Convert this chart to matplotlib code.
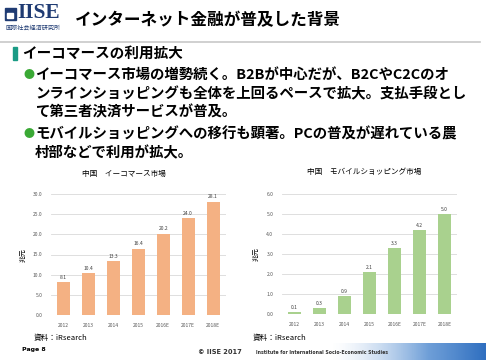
import numpy as np
import matplotlib.pyplot as plt
from matplotlib.patches import Rectangle
from matplotlib.colors import LinearSegmentedColormap

plt.rcParams['font.family'] = ['Noto Sans CJK JP', 'DejaVu Sans']

# data
years = ['2012', '2013', '2014', '2015', '2016E', '2017E', '2018E']
ec_market = [8.1, 10.4, 13.3, 16.4, 20.2, 24.0, 28.1]
mobile_market = [0.1, 0.3, 0.9, 2.1, 3.3, 4.2, 5.0]
ec_ticks = [0, 5, 10, 15, 20, 25, 30]
mobile_ticks = [0, 1, 2, 3, 4, 5, 6]

W, H = 486, 360
fig = plt.figure(figsize=(W / 100, H / 100), dpi=100)


def px(x, y):
    # pixel coords (top-left origin) -> figure fraction
    return x / W, 1 - y / H


def ftext(x, y, s, **kw):
    fx, fy = px(x, y)
    fig.text(fx, fy, s, **kw)


# header
fig.patches.append(Rectangle(px(5, 20), 11 / W, 12 / H, transform=fig.transFigure,
                             color='#1f3b73'))
fig.patches.append(Rectangle(px(7, 18), 6 / W, 5 / H, transform=fig.transFigure,
                             color='white'))
ftext(17, 23, 'IISE', family='Liberation Serif', weight='bold', size=15.5,
      color='#1f3b73', va='bottom')
ftext(5, 23.5, '国際社会経済研究所', size=4.4, color='#1f3b73', va='top')
ftext(75, 20, 'インターネット金融が普及した背景', size=12, weight='bold', va='center')
fig.add_artist(plt.Line2D([0, 480 / W], [1 - 42 / H] * 2, color='#c8c8c8', lw=1.2))

fig.patches.append(Rectangle(px(13, 60), 4 / W, 13 / H, transform=fig.transFigure,
                             color='#1a9b85'))
ftext(22, 53, 'イーコマースの利用拡大', size=10.5, weight='bold', va='center')

bullets = [
    (75, True, 'イーコマース市場の増勢続く。B2Bが中心だが、B2CやC2Cのオ'),
    (94, False, 'ンラインショッピングも全体を上回るペースで拡大。支払手段とし'),
    (112, False, 'て第三者決済サービスが普及。'),
    (134, True, 'モバイルショッピングへの移行も顕著。PCの普及が遅れている農'),
    (153, False, '村部などで利用が拡大。'),
]
for y, dot, s in bullets:
    if dot:
        ftext(23, y, '●', size=8, color='#3aa935', va='center')
    ftext(35, y, s, size=10.4, weight='bold', va='center')


def bar_chart(rect, values, ticks, color, title, title_x, title_y):
    ax = fig.add_axes(rect)
    x = np.arange(len(years))
    ax.bar(x, values, width=0.53, color=color, zorder=2)
    for xi, v in zip(x, values):
        ax.text(xi, v + ticks[-1] * 0.02, f'{v:.1f}', ha='center', va='bottom',
                size=3.6, color='#404040')
    ax.set_xlim(-0.5, len(years) - 0.5)
    ax.set_ylim(ticks[0], ticks[-1])
    ax.set_yticks(ticks)
    ax.set_yticklabels([f'{t:.1f}' for t in ticks])
    ax.set_xticks(x)
    ax.set_xticklabels(years)
    ax.tick_params(length=0, labelsize=3.6, labelcolor='#595959', pad=6)
    ax.grid(axis='y', color='#d9d9d9', lw=0.6, zorder=0)
    for sp in ax.spines.values():
        sp.set_visible(False)
    ax.set_ylabel('兆元', size=5, labelpad=4)
    ftext(title_x, title_y, title, size=5.5, ha='center', va='center')
    return ax


bar_chart([50.7 / W, 45 / H, 175 / W, 121 / H], ec_market, ec_ticks,
          '#f4b183', '中国　イーコマース市場', 124, 174)
bar_chart([281.7 / W, 46 / H, 175.3 / W, 120 / H], mobile_market, mobile_ticks,
          '#a9d18e', '中国　モバイルショッピング市場', 364, 172)

ftext(34, 338, '資料：iRsearch', size=5.5, va='center')
ftext(253, 338, '資料：iRsearch', size=5.5, va='center')

# footer
gax = fig.add_axes([330 / W, 0, 156 / W, 17 / H])
grad = np.linspace(0, 1, 200)[None, :] ** 1.5
gax.imshow(grad, aspect='auto', extent=[0, 1, 0, 1],
           cmap=LinearSegmentedColormap.from_list('g', ['#ffffff', '#6f9fd8', '#2f6fc0']))
gax.axis('off')
ftext(22, 350, 'Page 8', size=4.5, weight='bold', va='center', family='DejaVu Sans')
ftext(198, 352, '© IISE 2017', size=4.8, weight='bold', va='center', family='DejaVu Sans',
      color='#333333')
ftext(256, 353, 'Institute for International Socio-Economic Studies', size=3.3,
      weight='bold', va='center', family='DejaVu Sans', color='#333333')

fig.savefig('out.png', dpi=100)
